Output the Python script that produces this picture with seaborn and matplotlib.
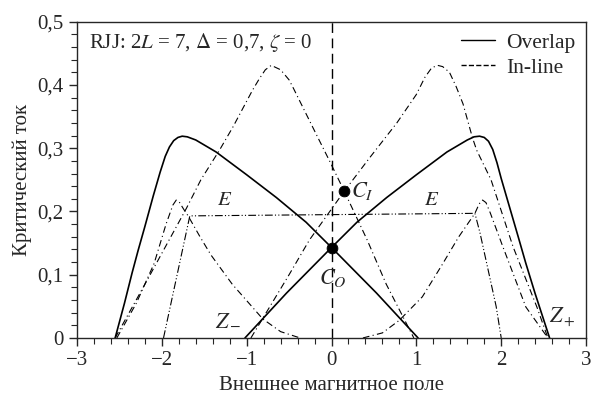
import numpy as np
import pandas as pd
import seaborn as sns
import matplotlib.pyplot as plt

# Overlap (solid) curves
ov_left_x = [-2.55, -2.44, -2.35, -2.28, -2.2, -2.1, -2.02, -1.96, -1.91, -1.86, -1.81, -1.76, -1.7, -1.6,
             -1.36, -1.0, -0.65, -0.3, 0.0, 0.53, 1.02]
ov_left_y = [0.0, 0.055, 0.103, 0.138, 0.176, 0.225, 0.262, 0.287, 0.302, 0.312, 0.317, 0.319, 0.318, 0.313,
             0.294, 0.258, 0.222, 0.183, 0.143, 0.071, 0.0]
ov_right_x = [-1.02, -0.53, 0.0, 0.3, 0.65, 1.0, 1.36, 1.6, 1.68, 1.745, 1.8, 1.85, 1.9, 1.95, 2.0,
              2.1, 2.2, 2.29, 2.4, 2.57]
ov_right_y = [0.0, 0.071, 0.143, 0.183, 0.222, 0.258, 0.294, 0.313, 0.318, 0.319, 0.317, 0.311, 0.298, 0.277, 0.252,
              0.206, 0.16, 0.118, 0.07, 0.0]

# In-line (dash-dot) curves
big_left_x = [-2.55, -2.17, -1.71, -1.54, -1.32, -1.16, -0.93, -0.85, -0.78, -0.71, -0.6, -0.5, -0.45,
              -0.18, -0.02, 0.15, 0.42, 0.645, 0.97]
big_left_y = [0.0, 0.092, 0.205, 0.25, 0.297, 0.334, 0.392, 0.41, 0.424, 0.431, 0.424, 0.408, 0.395,
              0.322, 0.279, 0.232, 0.155, 0.085, 0.0]
big_right_x = [-0.95, -0.81, -0.5, -0.26, 0.15, 0.45, 0.77, 1.0, 1.1, 1.18, 1.25, 1.31, 1.39, 1.47, 1.55,
               1.66, 1.71, 1.88, 2.14, 2.42, 2.55]
big_right_y = [0.0, 0.031, 0.1, 0.155, 0.232, 0.285, 0.34, 0.385, 0.412, 0.427, 0.431, 0.429, 0.42, 0.397, 0.37,
               0.317, 0.297, 0.25, 0.144, 0.049, 0.0]
plateau_x = [-1.98, -1.67, 0.0, 1.69, 1.75, 1.94, 2.0]
plateau_y = [0.0, 0.193, 0.195, 0.197, 0.166, 0.05, 0.0]
small_left_x = [-2.53, -2.3, -2.09, -1.95, -1.87, -1.83, -1.79, -1.74, -1.69, -1.55, -1.42, -1.17, -0.81, -0.6, -0.37]
small_left_y = [0.0, 0.055, 0.118, 0.18, 0.21, 0.218, 0.214, 0.203, 0.193, 0.16, 0.131, 0.085, 0.03, 0.01, 0.0]
small_right_x = [0.37, 0.6, 0.8, 1.07, 1.3, 1.5, 1.69, 1.74, 1.78, 1.82, 1.87, 2.02, 2.29, 2.55]
small_right_y = [0.0, 0.008, 0.028, 0.065, 0.115, 0.16, 0.197, 0.212, 0.218, 0.214, 0.198, 0.144, 0.049, 0.0]

# marked points and labels
pts_x = [0.15, 0.0]
pts_y = [0.232, 0.143]
x_ticks = [-3, -2, -1, 0, 1, 2, 3]
x_labels = ['\u22123', '\u22122', '\u22121', '0', '1', '2', '3']
y_ticks = [0, 0.1, 0.2, 0.3, 0.4, 0.5]
y_labels = ['0', '0,1', '0,2', '0,3', '0,4', '0,5']

sns.set_style('ticks')
plt.rcParams['font.family'] = ['Liberation Serif', 'DejaVu Serif']
plt.rcParams['mathtext.fontset'] = 'stix'

fig = plt.figure(figsize=(5.92, 3.99), dpi=100)
ax = fig.add_axes([0.130, 0.153, 0.860, 0.7926])

def draw(x, y, **kw):
    sns.lineplot(x=x, y=y, ax=ax, sort=False, estimator=None, color='black', **kw)

dd = (0, (6, 3, 1, 3))
draw(ov_left_x, ov_left_y, linewidth=1.2)
draw(ov_right_x, ov_right_y, linewidth=1.2)
draw(big_left_x, big_left_y, linewidth=0.8, linestyle=dd)
draw(big_right_x, big_right_y, linewidth=0.8, linestyle=dd)
draw(plateau_x, plateau_y, linewidth=0.8, linestyle=(0, (7, 2, 1, 2, 1, 2)))
draw(small_left_x, small_left_y, linewidth=0.8, linestyle=dd)
draw(small_right_x, small_right_y, linewidth=0.8, linestyle=dd)

ax.axvline(0, color='black', linewidth=1.0, linestyle=(0, (7, 4)))
sns.scatterplot(x=pts_x, y=pts_y, ax=ax, color='black', s=60, zorder=5, edgecolor='black')

# legend
ax.plot([], [], color='black', linewidth=1.0, label='Overlap')
ax.plot([], [], color='black', linewidth=1.0, linestyle='--', label='In-line')
ax.legend(loc='upper right', frameon=False, fontsize=15.5, handlelength=1.6,
          handletextpad=0.5, borderaxespad=0.1, labelspacing=0.25)

ax.text(-2.86, 0.467, 'RJJ: 2$L$ = 7, $\\Delta$ = 0,7, $\\zeta$ = 0', fontsize=15, va='center')
ax.text(-1.26, 0.218, '$E$', fontsize=15, ha='center', va='center')
ax.text(1.18, 0.218, '$E$', fontsize=15, ha='center', va='center')
ax.text(0.23, 0.232, '$C_I$', fontsize=16, ha='left', va='center')
ax.text(0.02, 0.095, '$C_O$', fontsize=16, ha='center', va='center')
ax.text(-1.22, 0.027, '$Z_-$', fontsize=16, ha='center', va='center')
ax.text(2.72, 0.032, '$Z_+$', fontsize=16, ha='center', va='center')

ax.set_xlim(-3, 3)
ax.set_ylim(0, 0.5)
ax.set_xticks(x_ticks)
ax.set_xticklabels(x_labels)
ax.set_yticks(y_ticks)
ax.set_yticklabels(y_labels)
ax.set_xticks(np.arange(-3, 3.01, 0.2), minor=True)
ax.set_yticks(np.arange(0, 0.501, 0.02), minor=True)
ax.tick_params(which='major', length=6, width=1, labelsize=15, direction='out')
ax.tick_params(which='minor', length=4, width=0.8, direction='out')
for s in ax.spines.values():
    s.set_linewidth(1.0)
ax.set_xlabel('Внешнее магнитное поле', fontsize=15)
ax.set_ylabel('Критический ток', fontsize=15)

fig.savefig('out.png', dpi=100)
